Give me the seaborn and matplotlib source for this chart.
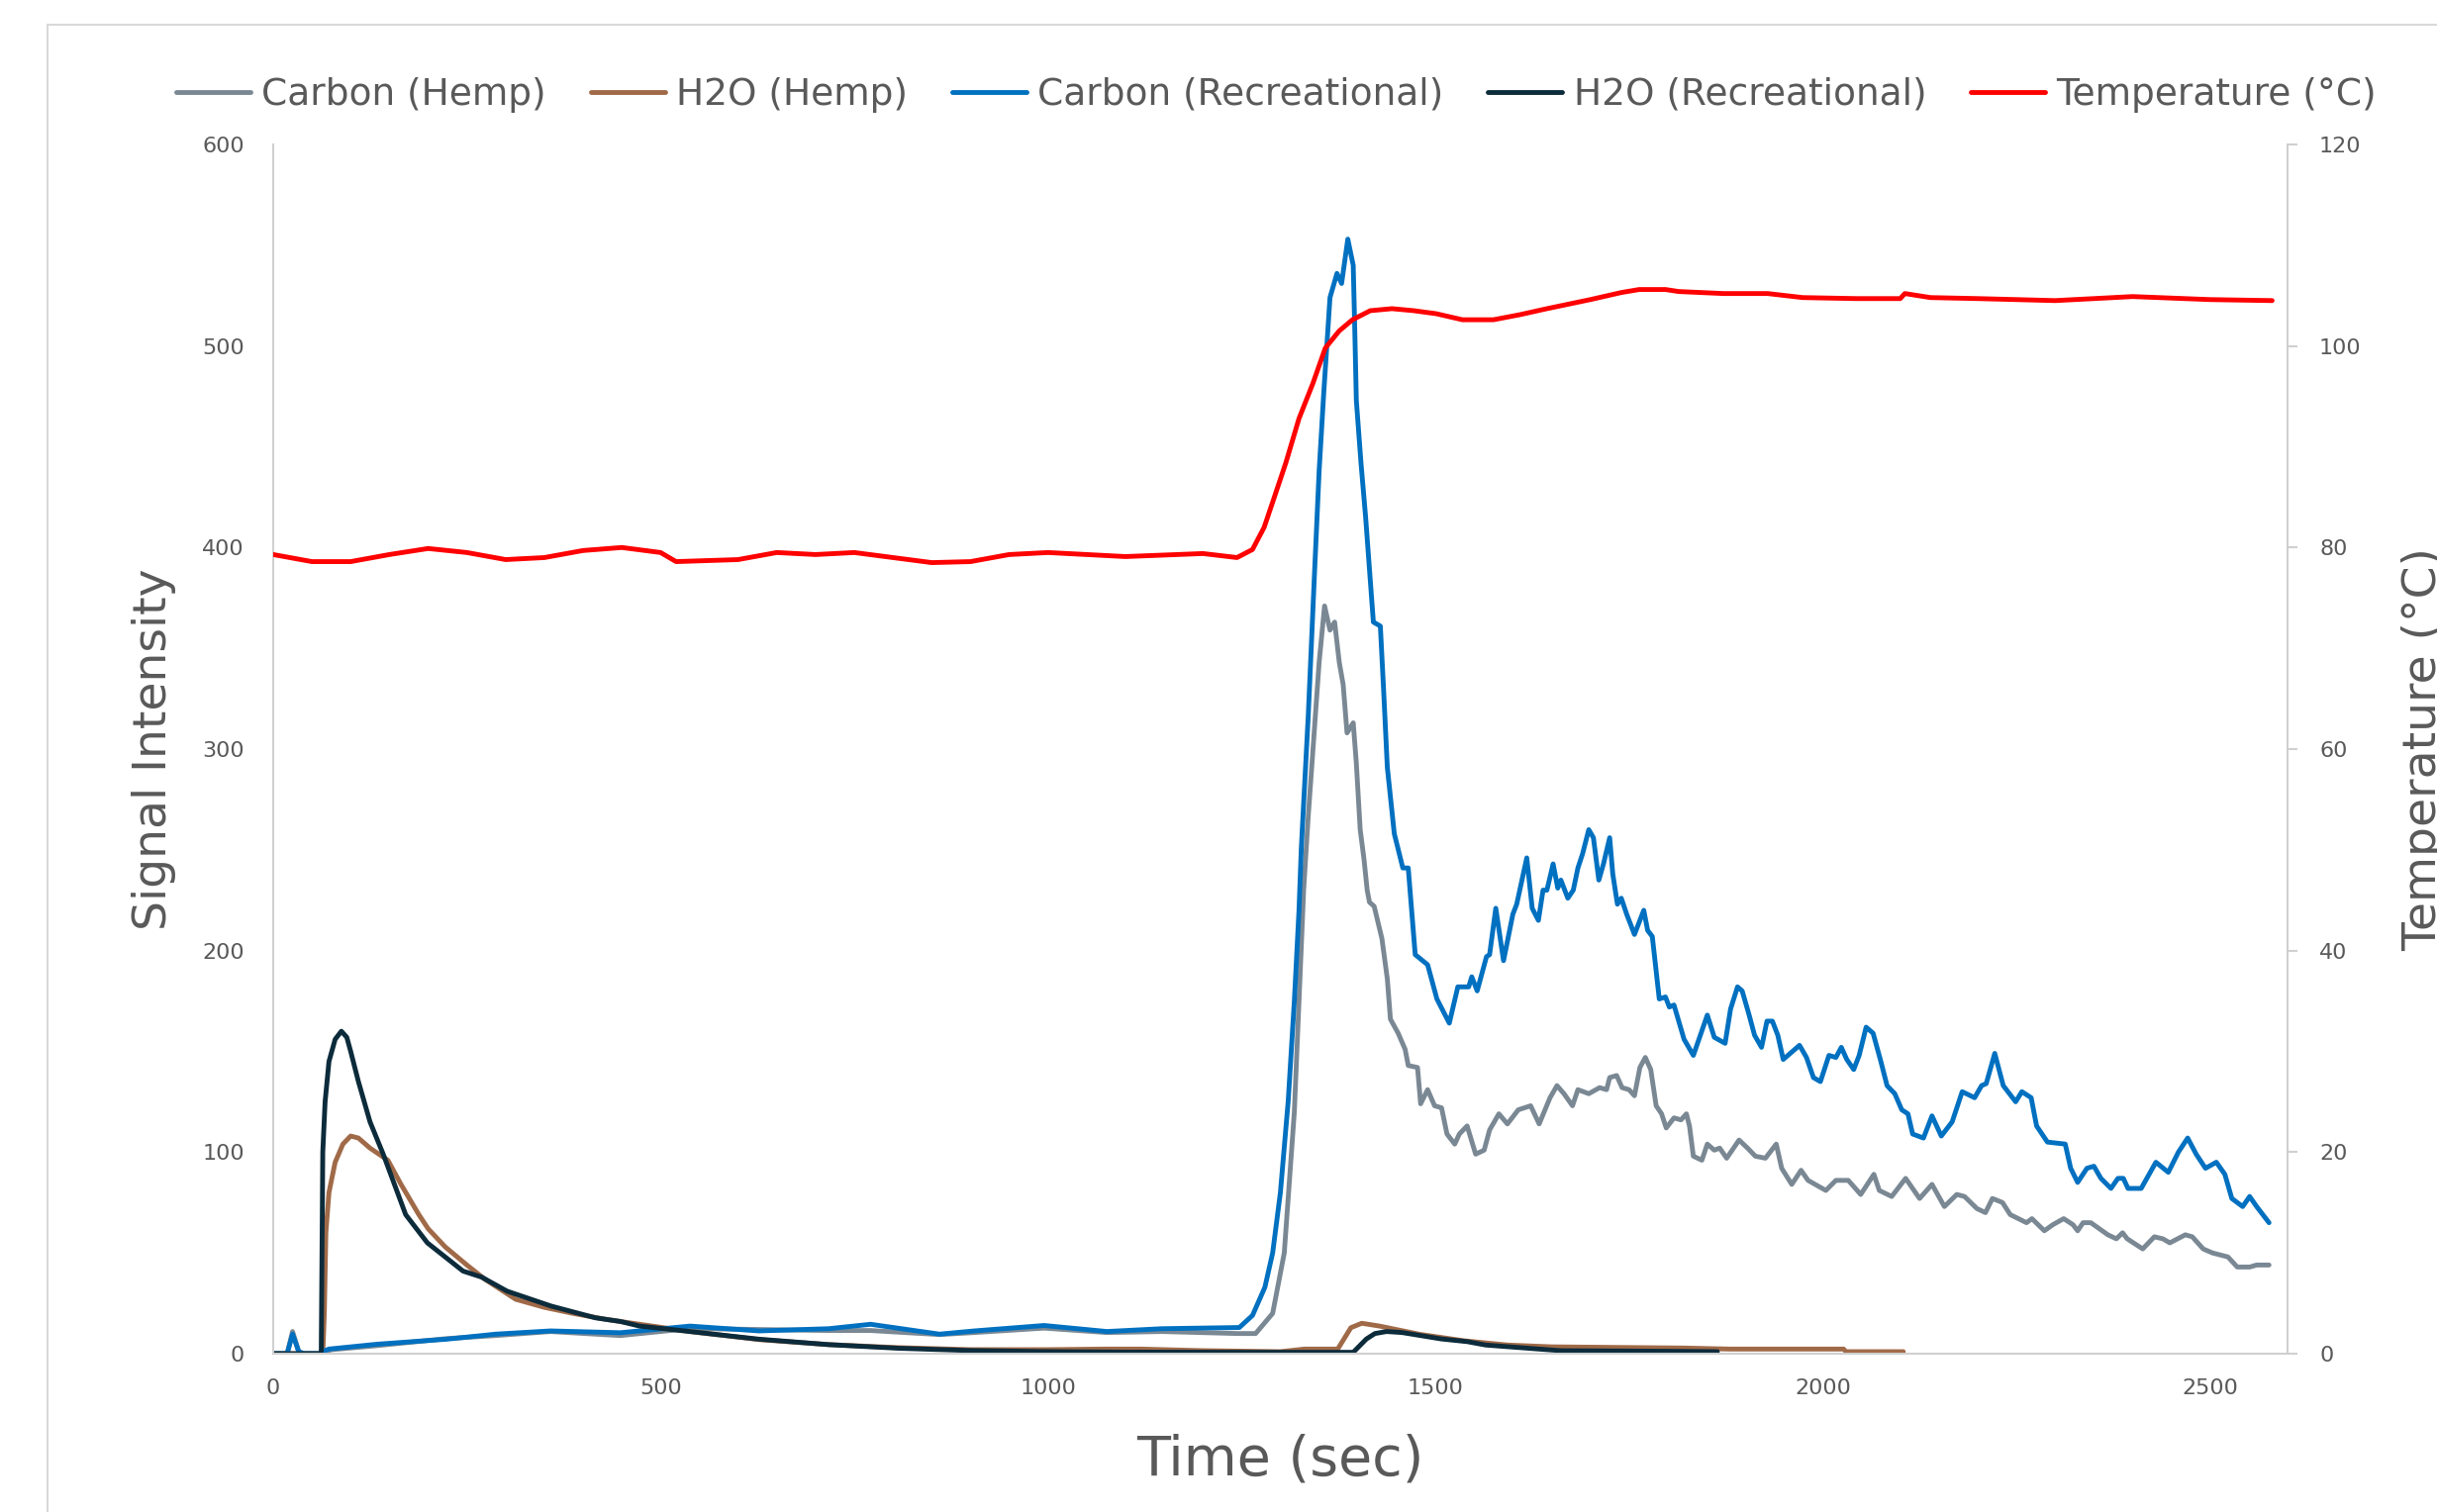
import matplotlib
matplotlib.use("Agg")
import matplotlib.pyplot as plt
from matplotlib.patches import Rectangle
import seaborn as sns
import pandas as pd

# values, time in sec
carbon_hemp_t = [0, 18, 25, 33, 40, 60, 65, 75, 134, 224, 287, 358, 448, 538, 627, 717, 771, 860,
                 905, 995, 1076, 1147, 1246, 1268, 1290, 1305, 1318, 1330, 1336, 1344, 1350, 1357,
                 1364, 1370, 1376, 1381, 1386, 1394, 1398, 1403, 1408, 1412, 1415, 1421, 1431, 1438,
                 1442, 1452, 1461, 1465, 1477, 1481, 1490, 1499, 1508, 1515, 1525, 1531, 1541, 1552,
                 1563, 1570, 1582, 1593, 1607, 1623, 1634, 1648, 1657, 1666, 1677, 1684, 1698, 1712,
                 1721, 1725, 1734, 1741, 1750, 1757, 1764, 1771, 1778, 1785, 1792, 1798, 1808, 1817,
                 1824, 1828, 1833, 1844, 1851, 1860, 1867, 1876, 1892, 1903, 1913, 1926, 1940, 1947,
                 1960, 1972, 1981, 2004, 2017, 2033, 2049, 2066, 2073, 2089, 2107, 2125, 2141, 2157,
                 2173, 2183, 2199, 2210, 2219, 2232, 2242, 2263, 2270, 2286, 2297, 2311, 2323, 2329,
                 2336, 2346, 2368, 2379, 2387, 2393, 2413, 2428, 2439, 2448, 2468, 2477, 2491, 2503,
                 2523, 2535, 2551, 2560, 2576]
carbon_hemp_v = [0, 0, 11, 1, 0, 0, 0.5, 2, 4, 7.5, 9, 11, 9, 12.5, 12, 11.5, 11.5, 9.5,
                 10.5, 12.7, 10.5, 11, 10, 10, 20, 50, 120, 230, 267, 310, 343, 371,
                 359, 363, 343, 332, 308, 313, 293, 260, 245, 230, 224, 222, 206, 186,
                 166, 159, 151, 143, 142, 124, 131, 123, 122, 109, 104, 109, 113, 99,
                 101, 111, 119, 114, 121, 123, 114, 127, 133, 129, 123, 131, 129, 132,
                 131, 137, 138, 132, 131, 128, 142, 147, 141, 123, 119, 112, 117, 116,
                 119, 113, 98, 96, 104, 101, 102, 97, 106, 102, 98, 97, 104, 92,
                 84, 91, 86, 81, 86, 86, 79, 89, 81, 78, 87, 77, 84, 73,
                 79, 78, 72, 70, 77, 75, 69, 65, 67, 61, 64, 67, 64, 61,
                 65, 65, 59, 57, 60, 57, 52, 58, 57, 55, 59, 58, 52, 50,
                 48, 43, 43, 44, 44]

h2o_hemp_t = [0, 64, 66, 68, 72, 80, 90, 100, 110, 125, 148, 165, 188, 200, 222, 250, 273, 313,
              350, 387, 430, 473, 538, 627, 717, 807, 900, 1000, 1075, 1120, 1200, 1300, 1331,
              1374, 1391, 1405, 1428, 1480, 1537, 1593, 1650, 1822, 1879, 2027, 2030, 2104]
h2o_hemp_v = [0, 0, 20, 60, 80, 95, 104, 108, 107, 102, 96, 84, 69, 62, 53, 44, 37, 27,
              23, 20, 17, 14.6, 11, 7, 4.5, 3, 2, 2, 2.3, 2.3, 1.5, 1, 2.3,
              2.3, 12.9, 15.1, 13.7, 9.6, 6.4, 4.3, 3.4, 2.8, 2.3, 2.3, 1, 1]

carbon_rec_t = [0, 18, 25, 33, 40, 60, 63, 72, 134, 224, 287, 358, 448, 538, 627, 717, 771, 860,
                905, 995, 1076, 1147, 1247, 1264, 1280, 1290, 1300, 1310, 1318, 1324, 1327, 1336,
                1344, 1350, 1356, 1364, 1373, 1379, 1387, 1394, 1396, 1398, 1404, 1410, 1420, 1429,
                1433, 1438, 1447, 1458, 1465, 1474, 1490, 1502, 1518, 1529, 1543, 1547, 1554, 1566,
                1570, 1578, 1588, 1600, 1605, 1618, 1625, 1633, 1639, 1644, 1652, 1658, 1662, 1671,
                1678, 1684, 1690, 1698, 1704, 1711, 1717, 1725, 1729, 1735, 1740, 1747, 1757, 1769,
                1774, 1780, 1789, 1797, 1802, 1808, 1821, 1833, 1842, 1851, 1860, 1874, 1881, 1890,
                1896, 1905, 1912, 1921, 1928, 1935, 1942, 1949, 1958, 1970, 1979, 1988, 1997, 2008,
                2017, 2024, 2031, 2040, 2047, 2056, 2065, 2075, 2083, 2093, 2102, 2110, 2116, 2130,
                2141, 2153, 2167, 2180, 2196, 2205, 2211, 2222, 2233, 2249, 2257, 2269, 2276, 2290,
                2313, 2320, 2329, 2341, 2350, 2359, 2372, 2381, 2388, 2394, 2411, 2430, 2446, 2459,
                2471, 2482, 2494, 2508, 2519, 2528, 2542, 2551, 2560, 2576]
carbon_rec_v = [0, 0, 9.7, 1, 0, 0, 1, 2.3, 4.7, 7.2, 9.7, 11.3, 10.4, 13.7, 11.3, 12.4, 14.6, 9.7,
                11.3, 14, 11, 12.4, 13, 19, 33, 50, 80, 125, 175, 220, 251, 317,
                387, 438, 477, 524, 536, 531, 553, 540, 508, 473, 442, 415, 363, 361,
                331, 291, 258, 241, 241, 198, 193, 176, 164, 182, 182, 187, 180, 197,
                198, 221, 195, 218, 223, 246, 221, 215, 230, 230, 243, 231, 235, 226,
                230, 241, 248, 260, 256, 235, 243, 256, 238, 223, 226, 218, 208, 220,
                210, 207, 176, 177, 172, 173, 156, 148, 158, 168, 157, 154, 171, 182,
                180, 168, 158, 152, 165, 165, 158, 146, 149, 153, 147, 137, 135, 148,
                147, 152, 146, 141, 148, 162, 159, 145, 133, 129, 121, 119, 109, 107,
                118, 108, 115, 130, 127, 133, 134, 149, 133, 125, 130, 127, 113, 105,
                104, 92, 85, 92, 93, 87, 82, 87, 87, 82, 82, 95, 90, 100,
                107, 99, 92, 95, 89, 77, 73, 78, 73, 65]

h2o_rec_t = [0, 62, 64, 67, 72, 80, 88, 95, 100, 110, 125, 142, 171, 199, 245, 269, 302, 359,
             416, 448, 473, 538, 627, 717, 807, 896, 986, 1100, 1250, 1394, 1411, 1422, 1437,
             1457, 1508, 1541, 1565, 1634, 1662, 1800, 1864]
h2o_rec_v = [0, 0, 100, 125, 145, 156, 160, 157, 150, 135, 115, 99, 69, 55, 41, 38, 31, 23.6,
             17.8, 16, 13.7, 11, 7.2, 4.5, 2.7, 1.6, 1.1, 0.8, 0.7, 0.7, 7.3, 10, 11,
             10.5, 7.3, 6, 4.3, 2.3, 1.5, 1.2, 1]

temp_t = [0, 50, 100, 150, 200, 250, 300, 350, 400, 450, 500, 520, 600, 650, 700, 750, 800, 850,
          900, 950, 1000, 1100, 1200, 1244, 1264, 1279, 1290, 1307, 1324, 1342, 1358, 1376, 1393,
          1416, 1444, 1472, 1501, 1535, 1575, 1609, 1644, 1700, 1740, 1763, 1797, 1814, 1872,
          1929, 1974, 2043, 2100, 2106, 2139, 2200, 2300, 2400, 2500, 2580]
temp_v = [79.3, 78.6, 78.6, 79.3, 79.9, 79.5, 78.8, 79.0, 79.7, 80.0, 79.5, 78.6, 78.8, 79.5, 79.3,
          79.5, 79.0, 78.5, 78.6, 79.3, 79.5, 79.1, 79.4, 79.0, 79.8, 82.0, 84.5, 88.4, 92.8, 96.3,
          99.8, 101.5, 102.6, 103.5, 103.7, 103.5, 103.2, 102.6, 102.6, 103.1, 103.7, 104.6, 105.3,
          105.6, 105.6, 105.4, 105.2, 105.2, 104.8, 104.7, 104.7, 105.2, 104.8, 104.7, 104.5, 104.9,
          104.6, 104.5]

x_ticks = [0, 500, 1000, 1500, 2000, 2500]
y_ticks = [0, 100, 200, 300, 400, 500, 600]
temp_ticks = [0, 20, 40, 60, 80, 100, 120]

TEXT = "#595959"
AXIS = "#D0D0D0"

sns.set_style("white")
plt.rcParams["font.family"] = ["DejaVu Sans"]

fig = plt.figure(figsize=(24.62, 15.28), dpi=100)
ax = fig.add_axes([0.1121, 0.1047, 0.8266, 0.7998])
ax2 = ax.twinx()

signal_series = [
    ("Carbon (Hemp)", carbon_hemp_t, carbon_hemp_v, "#7A8894"),
    ("H2O (Hemp)", h2o_hemp_t, h2o_hemp_v, "#A06A48"),
    ("Carbon (Recreational)", carbon_rec_t, carbon_rec_v, "#0070C0"),
    ("H2O (Recreational)", h2o_rec_t, h2o_rec_v, "#0C2B3B"),
]
for name, t, v, col in signal_series:
    df = pd.DataFrame({"time": t, "value": v})
    sns.lineplot(data=df, x="time", y="value", ax=ax, color=col, linewidth=3.5,
                 estimator=None, sort=False, label=name, legend=False)

temp_df = pd.DataFrame({"time": temp_t, "temp": temp_v})
sns.lineplot(data=temp_df, x="time", y="temp", ax=ax2, color="#FF0000", linewidth=3.5,
             estimator=None, sort=False, label="Temperature (°C)", legend=False)

ax.set_xlim(0, 2600)
ax.set_ylim(0, 600)
ax.set_xticks(x_ticks)
ax.set_yticks(y_ticks)
ax2.set_ylim(0, 120)
ax2.set_yticks(temp_ticks)

for s in ["top", "right"]:
    ax.spines[s].set_visible(False)
for s in ["top", "left", "bottom"]:
    ax2.spines[s].set_visible(False)
for sp in [ax.spines["left"], ax.spines["bottom"], ax2.spines["right"]]:
    sp.set_color(AXIS)
    sp.set_linewidth(1.5)

ax.tick_params(axis="y", length=0, pad=21, labelsize=16, labelcolor=TEXT)
ax.tick_params(axis="x", length=0, pad=18, labelsize=16, labelcolor=TEXT)
ax2.tick_params(axis="y", right=True, length=7, width=1.5, color=AXIS, direction="out",
                pad=16, labelsize=16, labelcolor=TEXT)

ax.set_xlabel("Time (sec)", fontsize=40, color=TEXT)
ax.xaxis.set_label_coords(0.5, -0.066)
ax.set_ylabel("Signal Intensity", fontsize=34, color=TEXT)
ax.yaxis.set_label_coords(-0.048, 0.5)
ax2.set_ylabel("Temperature (°C)", fontsize=34, color=TEXT)
ax2.yaxis.set_label_coords(1.0565, 0.5)

h1, l1 = ax.get_legend_handles_labels()
h2, l2 = ax2.get_legend_handles_labels()
ax2.legend(h1 + h2, l1 + l2, loc="center", bbox_to_anchor=(0.498, 1.041), ncol=5,
           frameon=False, fontsize=27, handlelength=2.0, handletextpad=0.3,
           columnspacing=1.2, labelcolor=TEXT)

# light chart-area border, partly running off the image like the original
fig.add_artist(Rectangle((48 / 2462, -0.05), 1.2, 1.05 - 25 / 1528,
                         transform=fig.transFigure, fill=False,
                         edgecolor="#D9D9D9", linewidth=1.5))

fig.savefig("out.png", dpi=100)
